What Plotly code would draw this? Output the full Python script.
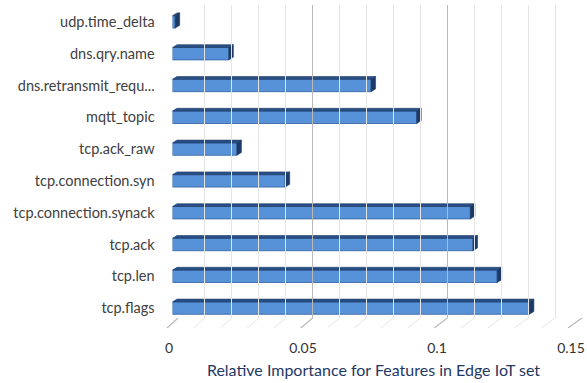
import plotly.graph_objects as go

# Feature importances, listed bottom-to-top as drawn
features = [
    "tcp.flags",
    "tcp.len",
    "tcp.ack",
    "tcp.connection.synack",
    "tcp.connection.syn",
    "tcp.ack_raw",
    "mqtt_topic",
    "dns.retransmit_requ...",
    "dns.qry.name",
    "udp.time_delta",
]
importance = [0.133, 0.121, 0.112, 0.111, 0.042, 0.024, 0.091, 0.074, 0.021, 0.001]

x_ticks = [0, 0.05, 0.1, 0.15]
x_tick_text = ["0", "0.05", "0.1", "0.15"]
minor_grid = [round(i * 0.01, 2) for i in range(16)]

W, H = 587, 383
X_MAX = 0.15


def px(x):
    return x / W


def py(y):
    return 1 - y / H


# pixel geometry of the pseudo-3D frame
BAR_X0, BAR_X1 = 172.5, 575        # bar plane: 0 .. 0.15
WALL_X0, WALL_X1 = 178, 582        # back wall: 0 .. 0.15
FLOOR_X0, FLOOR_X1 = 167, 568      # front floor edge: 0 .. 0.15
LAB_X0, LAB_X1 = 169, 571          # tick labels: 0 .. 0.15
WALL_TOP, WALL_BOTTOM = 5, 318
FLOOR_FRONT = 328
CAT_TOP, CAT_BOTTOM = 6, 324

n = len(features)
cat_pitch = (CAT_BOTTOM - CAT_TOP) / n
bar_scale = (BAR_X1 - BAR_X0) / X_MAX
wall_scale = (WALL_X1 - WALL_X0) / X_MAX
half = 0.195                         # half bar thickness (category units)
dx = 4.5 / bar_scale                 # depth offset of the 3D faces
dy = 2.8 / cat_pitch

front_c = "#5792d8"
edge_c = "#2f5f9f"
top_c = "#2a4f86"
side_c = "#1d3a66"
minor_c = "#e4e4e4"
major_c = "#b8b8b8"

fig = go.Figure()

# back wall grid carrier (range padded a pixel so the edge lines are drawn)
pad = 1 / wall_scale
fig.add_trace(go.Scatter(x=[0, X_MAX], y=[0, 1], mode="none", xaxis="x2", yaxis="y2",
                         hoverinfo="skip", showlegend=False))

# floor grid: slanted lines from the front edge to the back wall
lab_scale = (LAB_X1 - LAB_X0) / X_MAX


def floor_segments(values):
    xs, ys = [], []
    for v in values:
        f = FLOOR_X0 + v / X_MAX * (FLOOR_X1 - FLOOR_X0)
        b = WALL_X0 + v / X_MAX * (WALL_X1 - WALL_X0)
        xs += [(f - LAB_X0) / lab_scale, (b - LAB_X0) / lab_scale, None]
        ys += [0, 1, None]
    return xs, ys


minor_only = [v for v in minor_grid if abs(v / 0.05 - round(v / 0.05)) > 1e-6]
fx, fy = floor_segments(minor_only)
fig.add_trace(go.Scatter(x=fx, y=fy, mode="lines", xaxis="x3", yaxis="y3",
                         line=dict(color=minor_c, width=1), hoverinfo="skip", showlegend=False))
fx, fy = floor_segments(x_ticks)
fig.add_trace(go.Scatter(x=fx, y=fy, mode="lines", xaxis="x3", yaxis="y3",
                         line=dict(color=major_c, width=1.2), hoverinfo="skip", showlegend=False))

# bar front faces
ypos = list(range(n))
fig.add_trace(go.Bar(
    x=importance, y=ypos, orientation="h", width=2 * half, base=0,
    marker=dict(color=front_c, line=dict(color=edge_c, width=0.8)),
    cliponaxis=False, showlegend=False,
))

# top faces
tx, ty = [], []
for i, v in enumerate(importance):
    tx += [0, v, v + dx, dx, 0, None]
    ty += [i + half, i + half, i + half + dy, i + half + dy, i + half, None]
fig.add_trace(go.Scatter(x=tx, y=ty, mode="lines", fill="toself", fillcolor=top_c,
                         line=dict(color=side_c, width=0.6), hoverinfo="skip", showlegend=False))

# right side faces
sx, sy = [], []
for i, v in enumerate(importance):
    sx += [v, v + dx, v + dx, v, v, None]
    sy += [i - half, i - half + dy, i + half + dy, i + half, i - half, None]
fig.add_trace(go.Scatter(x=sx, y=sy, mode="lines", fill="toself", fillcolor=side_c,
                         line=dict(color=side_c, width=0.6), hoverinfo="skip", showlegend=False))

font_family = "Lato, 'Open Sans', sans-serif"

fig.update_layout(
    width=W, height=H, autosize=False,
    margin=dict(l=0, r=0, t=0, b=0),
    paper_bgcolor="white", plot_bgcolor="rgba(0,0,0,0)",
    font=dict(family=font_family),
    xaxis=dict(domain=[px(BAR_X0), px(BAR_X1)], range=[0, X_MAX], anchor="y",
               showgrid=False, zeroline=False, showticklabels=False, showline=False),
    yaxis=dict(domain=[py(CAT_BOTTOM), py(CAT_TOP)], range=[-0.5, n - 0.5], anchor="x",
               tickvals=ypos, ticktext=features, showgrid=False, zeroline=False, showline=False,
               ticks="outside", ticklen=14, tickcolor="rgba(0,0,0,0)",
               tickfont=dict(size=14.5, color="#404040", family=font_family)),
    xaxis2=dict(domain=[px(WALL_X0 - 1), px(WALL_X1 + 1)], range=[-pad, X_MAX + pad], anchor="y2",
                tick0=0, dtick=0.05, showgrid=True, gridcolor=major_c,
                gridwidth=1.2, zeroline=False, showticklabels=False, showline=False,
                minor=dict(dtick=0.01, tick0=0, showgrid=True, gridcolor=minor_c, gridwidth=1)),
    yaxis2=dict(domain=[py(WALL_BOTTOM), py(WALL_TOP)], range=[0, 1], anchor="x2",
                visible=False),
    xaxis3=dict(domain=[px(160), 1], anchor="y3",
                range=[(160 - LAB_X0) / lab_scale, (W - LAB_X0) / lab_scale],
                tickvals=x_ticks, ticktext=x_tick_text, showgrid=False, zeroline=False,
                showline=False, ticks="outside", ticklen=7, tickcolor="rgba(0,0,0,0)",
                tickfont=dict(size=14, color="#333333", family=font_family),
                title=dict(text="Relative Importance for Features in Edge IoT set",
                           font=dict(size=16, color="#1f3864", family=font_family),
                           standoff=10)),
    yaxis3=dict(domain=[py(FLOOR_FRONT), py(WALL_BOTTOM)], range=[0, 1], anchor="x3",
                visible=False),
)

fig.write_html("out.html")
